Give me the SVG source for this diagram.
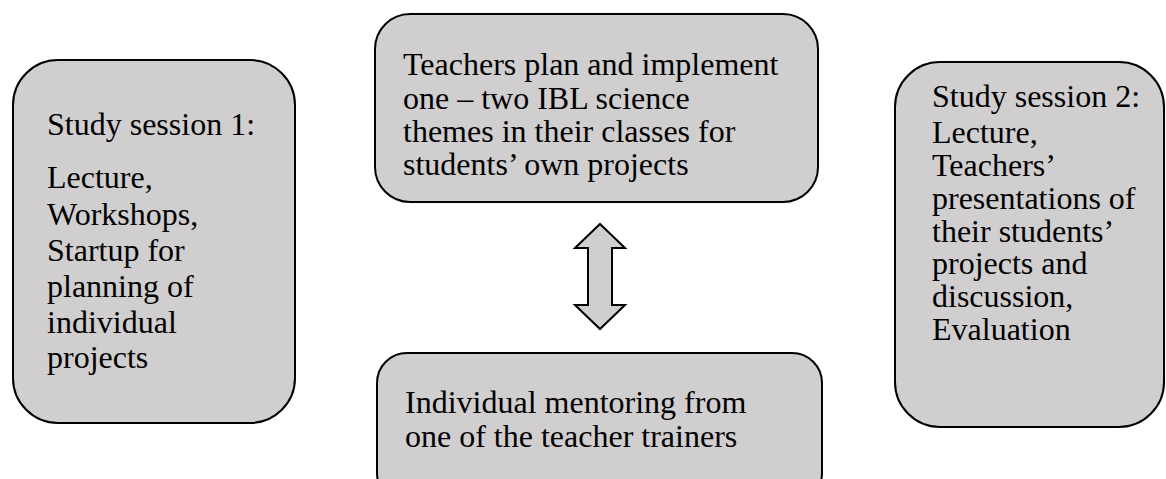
<svg xmlns="http://www.w3.org/2000/svg" width="1166" height="479" viewBox="0 0 1166 479">
<style>
.box{fill:#d0cece;stroke:#000;stroke-width:2}
</style>
<rect width="1166" height="479" fill="#fff"/>
<g id="session1">
<rect class="box" x="13" y="60" width="282" height="363" rx="45" ry="45"/>
<text x="47" y="135" font-family="Times New Roman" font-size="32">Study session 1:</text>
<text x="47" y="188" font-family="Times New Roman" font-size="32">Lecture,</text>
<text x="47" y="225" font-family="Times New Roman" font-size="32">Workshops,</text>
<text x="47" y="261" font-family="Times New Roman" font-size="32">Startup for</text>
<text x="47" y="297" font-family="Times New Roman" font-size="32">planning of</text>
<text x="47" y="333" font-family="Times New Roman" font-size="32">individual</text>
<text x="47" y="368" font-family="Times New Roman" font-size="32">projects</text>
</g>
<g id="implement">
<rect class="box" x="375" y="14" width="443" height="188" rx="35" ry="35"/>
<text x="403" y="75" font-family="Times New Roman" font-size="32">Teachers plan and implement</text>
<text x="403" y="109" font-family="Times New Roman" font-size="32">one – two IBL science</text>
<text x="403" y="142" font-family="Times New Roman" font-size="32">themes in their classes for</text>
<text x="403" y="175" font-family="Times New Roman" font-size="32">students’ own projects</text>
</g>
<g id="mentoring">
<rect class="box" x="377" y="353" width="445" height="150" rx="30" ry="30"/>
<text x="405" y="413" font-family="Times New Roman" font-size="32">Individual mentoring from</text>
<text x="405" y="447" font-family="Times New Roman" font-size="32">one of the teacher trainers</text>
</g>
<g id="session2">
<rect class="box" x="895" y="62" width="269" height="365" rx="45" ry="45"/>
<text x="932" y="107" font-family="Times New Roman" font-size="32">Study session 2:</text>
<text x="932" y="143" font-family="Times New Roman" font-size="32">Lecture,</text>
<text x="932" y="176" font-family="Times New Roman" font-size="32">Teachers’</text>
<text x="932" y="209" font-family="Times New Roman" font-size="32">presentations of</text>
<text x="932" y="242" font-family="Times New Roman" font-size="32">their students’</text>
<text x="932" y="274" font-family="Times New Roman" font-size="32">projects and</text>
<text x="932" y="307" font-family="Times New Roman" font-size="32">discussion,</text>
<text x="932" y="340" font-family="Times New Roman" font-size="32">Evaluation</text>
</g>
<g id="connectors">
<polygon class="box" points="600,224 625,248 612,248 612,305 625,305 600,329 575,305 588,305 588,248 575,248"/>
</g>
</svg>
